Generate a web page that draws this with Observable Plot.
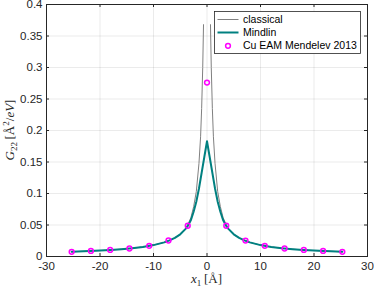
<!DOCTYPE html>
<html><head><meta charset="utf-8">
<script src="https://cdn.jsdelivr.net/npm/d3@7"></script>
<script src="https://cdn.jsdelivr.net/npm/@observablehq/plot@0.6"></script>
<style>
body{margin:0;background:#fff;}
#wrap{position:relative;width:374px;height:290px;}
</style></head><body><div id="wrap"></div>
<script>
// Tick labels
const xTicks = [-30, -20, -10, 0, 10, 20, 30];
const yTicks = [0, 0.05, 0.1, 0.15, 0.2, 0.25, 0.3, 0.35, 0.4];

// Atomistic data: Cu EAM Mendelev 2013
const xAtoms = [-25.3, -21.7, -18.1, -14.5, -10.8, -7.2, -3.6, 0, 3.6, 7.2, 10.8, 14.5, 18.1, 21.7, 25.3];
const gAtoms = [0.0075, 0.0089, 0.0105, 0.0127, 0.0170, 0.0254, 0.0488, 0.276, 0.0488, 0.0252, 0.0170, 0.0127, 0.0104, 0.0088, 0.0075];

// Classical solution (singular at x=0 -> gap)
const xClassical = [-25.3, -22, -20, -18, -16, -14, -12, -10, -8, -7, -6, -5, -4, -3.6, -3, -2.5, -2, -1.5, -1.2, -1, -0.8, -0.65,
  0, 0.65, 0.8, 1, 1.2, 1.5, 2, 2.5, 3, 3.6, 4, 5, 6, 7, 8, 10, 12, 14, 16, 18, 20, 22, 25.3];
const gClassical = [0.0075, 0.0086, 0.0094, 0.0104, 0.0116, 0.0131, 0.0152, 0.0181, 0.0224, 0.0255, 0.0296, 0.0355, 0.0445, 0.0500, 0.062, 0.079, 0.103, 0.148, 0.19, 0.235, 0.30, 0.368,
  null, 0.368, 0.30, 0.235, 0.19, 0.148, 0.103, 0.079, 0.062, 0.0500, 0.0445, 0.0355, 0.0296, 0.0255, 0.0224, 0.0181, 0.0152, 0.0131, 0.0116, 0.0104, 0.0094, 0.0086, 0.0075];

// Mindlin (gradient) solution
const xMindlin = [-25.3, -22, -20, -18, -16, -14, -12, -10, -8, -7, -6, -5, -4, -3.6, -3, -2.5, -2, -1.5, -1, -0.5, 0,
  0.5, 1, 1.5, 2, 2.5, 3, 3.6, 4, 5, 6, 7, 8, 10, 12, 14, 16, 18, 20, 22, 25.3];
const gMindlin = [0.0075, 0.0086, 0.0094, 0.0104, 0.0116, 0.0131, 0.0152, 0.0181, 0.0224, 0.0255, 0.0296, 0.0352, 0.0438, 0.0485, 0.058, 0.071, 0.087, 0.108, 0.133, 0.158, 0.183,
  0.158, 0.133, 0.108, 0.087, 0.071, 0.058, 0.0485, 0.0438, 0.0352, 0.0296, 0.0255, 0.0224, 0.0181, 0.0152, 0.0131, 0.0116, 0.0104, 0.0094, 0.0086, 0.0075];

const seriesNames = ["classical", "Mindlin", "Cu EAM Mendelev 2013"];

const W = 374, H = 290, mL = 46, mR = 7, mT = 4, mB = 34;
const iw = W - mL - mR, ih = H - mT - mB;
const axisColor = "#262626";

const classical = xClassical.map((x, i) => ({x, y: gClassical[i]}));
const mindlin = xMindlin.map((x, i) => ({x, y: gMindlin[i]}));
const atoms = xAtoms.map((x, i) => ({x, y: gAtoms[i]}));

const chart = Plot.plot({
  width: W, height: H,
  marginLeft: mL, marginRight: mR, marginTop: mT, marginBottom: mB,
  style: {fontFamily: "'Liberation Sans', Arial, Helvetica, sans-serif", fontSize: "11.5px", color: axisColor, background: "#fff"},
  x: {domain: [-30, 30]},
  y: {domain: [0, 0.4]},
  marks: [
    Plot.gridX(xTicks, {stroke: "#000", strokeOpacity: 0.08}),
    Plot.gridY(yTicks, {stroke: "#000", strokeOpacity: 0.08}),
    Plot.line(classical, {x: "x", y: "y", stroke: "#808080", strokeWidth: 1}),
    Plot.line(mindlin, {x: "x", y: "y", stroke: "#008080", strokeWidth: 2}),
    Plot.dot(atoms, {x: "x", y: "y", r: 2.4, stroke: "#ff00ff", strokeWidth: 1.5, fill: "none"}),
    Plot.ruleX(xTicks, {x: d => d, insetTop: ih - 3, stroke: axisColor}),
    Plot.ruleX(xTicks, {x: d => d, insetBottom: ih - 3, stroke: axisColor}),
    Plot.ruleY(yTicks, {y: d => d, insetRight: iw - 3, stroke: axisColor}),
    Plot.ruleY(yTicks, {y: d => d, insetLeft: iw - 3, stroke: axisColor}),
    Plot.frame({stroke: axisColor}),
    Plot.axisX(xTicks, {tickSize: 0, tickPadding: 5, tickFormat: d => String(d), label: null}),
    Plot.axisY(yTicks, {tickSize: 0, tickPadding: 4, tickFormat: d => String(d), label: null})
  ]
});
document.getElementById("wrap").appendChild(chart);

const svg = d3.select(chart);
const serif = "'Liberation Serif', 'DejaVu Serif', serif";

// x label: x_1 [Å]
const xl = svg.append("text")
  .attr("x", mL + iw / 2).attr("y", 283)
  .attr("text-anchor", "middle")
  .attr("font-family", serif).attr("font-size", 13).attr("fill", axisColor);
xl.append("tspan").attr("font-style", "italic").text("x");
xl.append("tspan").attr("font-size", 9).attr("dy", 2.5).text("1");
xl.append("tspan").attr("dy", -2.5).text("\u2009[Å]");

// y label: G_22 [Å^2/eV]
const yl = svg.append("text")
  .attr("transform", `translate(14,${mT + ih / 2}) rotate(-90)`)
  .attr("text-anchor", "middle")
  .attr("font-family", serif).attr("font-size", 13).attr("fill", axisColor);
yl.append("tspan").attr("font-style", "italic").text("G");
yl.append("tspan").attr("font-size", 9).attr("dy", 2.5).text("22");
yl.append("tspan").attr("dy", -2.5).text("\u2009[Å");
yl.append("tspan").attr("font-size", 9).attr("dy", -5).text("2");
yl.append("tspan").attr("dy", 5).text("/");
yl.append("tspan").attr("font-style", "italic").text("eV");
yl.append("tspan").text("]");

// Legend
const lg = svg.append("g").attr("transform", "translate(214.5,11.5)");
lg.append("rect").attr("width", 146).attr("height", 42)
  .attr("fill", "#fff").attr("stroke", axisColor).attr("stroke-width", 0.8);
const rows = [8, 21, 34.3];
lg.append("line").attr("x1", 3).attr("x2", 24).attr("y1", rows[0]).attr("y2", rows[0])
  .attr("stroke", "#808080").attr("stroke-width", 1);
lg.append("line").attr("x1", 3).attr("x2", 24).attr("y1", rows[1]).attr("y2", rows[1])
  .attr("stroke", "#008080").attr("stroke-width", 2);
lg.append("circle").attr("cx", 13.5).attr("cy", rows[2]).attr("r", 2.4)
  .attr("fill", "none").attr("stroke", "#ff00ff").attr("stroke-width", 1.5);
seriesNames.forEach((name, i) => {
  lg.append("text").attr("x", 28.5).attr("y", rows[i])
    .attr("dy", "0.35em")
    .attr("text-anchor", "start")
    .attr("font-family", "'Liberation Sans', Arial, Helvetica, sans-serif")
    .attr("font-size", 10.5).attr("fill", "#000").text(name);
});
</script>
</body></html>
